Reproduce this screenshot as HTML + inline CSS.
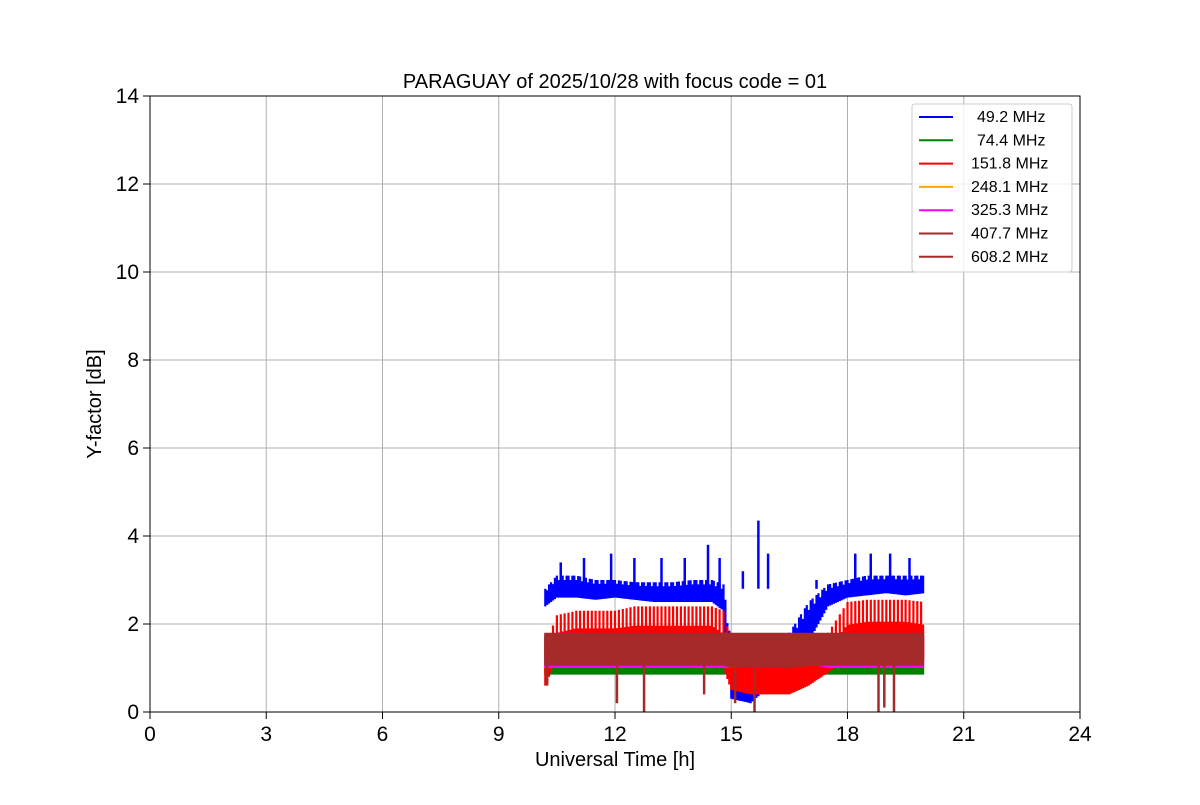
<!DOCTYPE html>
<html><head><meta charset="utf-8"><style>
body{margin:0;background:#fff}
text{font-family:"Liberation Sans","DejaVu Sans",sans-serif}
</style></head><body>
<svg id="chart" width="1200" height="800" xmlns="http://www.w3.org/2000/svg">
<rect width="1200" height="800" fill="#fff"/>
<g id="grid"></g>
<g id="series"></g>
<rect x="150" y="96" width="930" height="616" fill="none" stroke="#000" stroke-width="1"/>
<g id="axes"></g>
<text x="615" y="88" text-anchor="middle" font-size="20">PARAGUAY of 2025/10/28 with focus code = 01</text>
<text x="615" y="766" text-anchor="middle" font-size="20">Universal Time [h]</text>
<text transform="translate(101,404) rotate(-90)" text-anchor="middle" font-size="20">Y-factor [dB]</text>
<g id="legend"></g>
</svg>
<script>
const xTicks=[0,3,6,9,12,15,18,21,24];
const yTicks=[0,2,4,6,8,10,12,14];
const seriesNames=["49.2 MHz","74.4 MHz","151.8 MHz","248.1 MHz","325.3 MHz","407.7 MHz","608.2 MHz"];
const seriesColors=["blue","green","red","orange","magenta","brown","brown"];
const times=[10.2,10.5,11,11.5,12,12.5,13,13.5,14,14.5,14.8,15,15.5,16,16.5,17,17.5,18,18.5,19,19.5,20];
const blueLow=[2.4,2.6,2.6,2.55,2.6,2.55,2.5,2.5,2.5,2.5,2.3,0.3,0.2,0.6,1.0,1.6,2.4,2.6,2.65,2.7,2.65,2.7];
const blueHigh=[2.8,3.1,3.1,3.0,3.0,2.95,2.95,2.95,3.0,3.0,2.9,1.5,1.3,1.4,1.8,2.5,2.9,3.0,3.1,3.1,3.1,3.1];
const greenLow=[0.85,0.85,0.85,0.85,0.85,0.85,0.85,0.85,0.85,0.85,0.85,0.85,0.85,0.85,0.85,0.85,0.85,0.85,0.85,0.85,0.85,0.85];
const greenHigh=[1.0,1.0,1.0,1.0,1.0,1.0,1.0,1.0,1.0,1.0,1.0,1.0,1.0,1.0,1.0,1.0,1.0,1.0,1.0,1.0,1.0,1.0];
const redLow=[0.6,1.2,1.3,1.3,1.3,1.3,1.3,1.3,1.3,1.3,1.0,0.5,0.4,0.4,0.4,0.6,0.9,1.2,1.3,1.3,1.3,1.2];
const redHigh=[1.5,2.2,2.3,2.3,2.3,2.4,2.4,2.4,2.4,2.4,2.3,1.6,1.6,1.5,1.6,1.7,1.8,2.5,2.55,2.55,2.55,2.5];
const orangeLow=[1.25,1.3,1.3,1.3,1.3,1.3,1.3,1.3,1.3,1.3,1.3,1.3,1.3,1.3,1.3,1.3,1.3,1.3,1.3,1.3,1.3,1.3];
const orangeHigh=[1.5,1.55,1.55,1.55,1.55,1.55,1.55,1.55,1.55,1.55,1.55,1.6,1.6,1.55,1.55,1.55,1.55,1.55,1.55,1.55,1.55,1.55];
const magentaLow=[1.0,1.0,1.0,1.0,1.0,1.0,1.0,1.0,1.0,1.0,1.0,1.0,1.0,1.1,1.1,1.1,1.0,1.0,1.0,1.0,1.0,1.0];
const magentaHigh=[1.7,1.8,1.8,1.7,1.7,1.7,1.7,1.7,1.7,1.7,1.7,1.8,1.7,1.7,1.7,1.7,1.7,1.7,1.7,1.7,1.7,1.7];
const brown1Low=[1.05,1.05,1.05,1.05,1.05,1.05,1.05,1.05,1.05,1.05,1.05,1.0,1.0,1.0,1.0,1.05,1.05,1.05,1.05,1.05,1.05,1.05];
const brown1High=[1.75,1.75,1.75,1.75,1.75,1.75,1.75,1.75,1.75,1.75,1.75,1.75,1.75,1.75,1.75,1.75,1.75,1.75,1.75,1.75,1.75,1.75];
const brown2Low=[1.2,1.2,1.2,1.2,1.2,1.2,1.2,1.2,1.2,1.2,1.2,1.15,1.15,1.15,1.15,1.2,1.2,1.2,1.2,1.2,1.2,1.2];
const brown2High=[1.8,1.8,1.8,1.8,1.8,1.8,1.8,1.8,1.8,1.8,1.8,1.8,1.8,1.8,1.8,1.8,1.8,1.8,1.8,1.8,1.8,1.8];
const spikeTimes=[10.6,11.2,11.9,12.5,13.2,13.8,14.4,14.7,15.3,15.7,15.95,17.2,18.2,18.6,19.1,19.6];
const spikeValues=[3.4,3.5,3.6,3.5,3.5,3.5,3.8,3.5,3.2,4.35,3.6,3.0,3.6,3.6,3.6,3.5];
const dipTimes=[10.25,12.05,12.75,14.3,15.1,15.6,18.8,18.95,19.2];
const dipValues=[0.6,0.2,0.0,0.4,0.2,0.0,0.0,0.1,0.0];

const X=v=>150+v*930/24, Y=v=>712-v*616/14;
const NS="http://www.w3.org/2000/svg";
function mk(tag,attrs,parent){const e=document.createElementNS(NS,tag);for(const k in attrs)e.setAttribute(k,attrs[k]);parent.appendChild(e);return e;}
function interp(arr,t){for(let j=0;j<times.length-1;j++){if(t<=times[j+1]){const f=(t-times[j])/(times[j+1]-times[j]);return arr[j]+f*(arr[j+1]-arr[j]);}}return arr[arr.length-1];}
const grid=document.getElementById('grid'),axes=document.getElementById('axes'),ser=document.getElementById('series'),leg=document.getElementById('legend');
xTicks.forEach(t=>{
  const g=mk('line',{x1:X(t),x2:X(t),y1:96,y2:712,stroke:'#b0b0b0','stroke-width':1},grid);
  
  
  mk('line',{x1:X(t),x2:X(t),y1:712,y2:719,stroke:'#000'},axes);
  const l=mk('text',{x:X(t),y:741,'text-anchor':'middle','font-size':21},axes);
  l.textContent=t;
  
  
});
yTicks.forEach(t=>{
  const g=mk('line',{x1:150,x2:1080,y1:Y(t),y2:Y(t),stroke:'#b0b0b0','stroke-width':1},grid);
  
  
  mk('line',{x1:143,x2:150,y1:Y(t),y2:Y(t),stroke:'#000'},axes);
  const l=mk('text',{x:139,y:Y(t)+7,'text-anchor':'end','font-size':21},axes);
  l.textContent=t;
  
  
});
const bands=[[blueLow,blueHigh],[greenLow,greenHigh],[redLow,redHigh],[orangeLow,orangeHigh],[magentaLow,magentaHigh],[brown1Low,brown1High],[brown2Low,brown2High]];
bands.forEach((b,i)=>{
  const g=mk('g',{},ser);
  
  
  // dense vertical strokes between envelope low/high (matplotlib noisy trace look)
  let d='';
  let k=0;
  for(let t=times[0];t<=times[times.length-1];t+=0.05,k++){
    const lo=interp(b[0],t),hi=interp(b[1],t);
    let top=hi;
    if(i===2 && k%2===1) top=lo+(hi-lo)*0.6;
    if(i===0 && k%3===1) top=lo+(hi-lo)*0.8;
    d+='M'+X(t).toFixed(1)+' '+Y(lo).toFixed(1)+'V'+Y(top).toFixed(1);
  }
  mk('path',{d:d,stroke:seriesColors[i],'stroke-width':2.2,fill:'none'},g);
  if(i===0){
    spikeTimes.forEach((t,k)=>{
      const s=mk('line',{x1:X(t),x2:X(t),y1:Y(2.8),y2:Y(spikeValues[k]),stroke:'blue','stroke-width':2.5},g);
      
      
    });
  }
});
dipTimes.forEach((t,k)=>{
  const s=mk('line',{x1:X(t),x2:X(t),y1:Y(1.1),y2:Y(dipValues[k]),stroke:'brown','stroke-width':2.5},ser);
  
  
});
mk('rect',{x:912,y:104,width:160,height:168,fill:'#fff','fill-opacity':0.8,stroke:'#ccc',rx:3},leg);
seriesNames.forEach((n,i)=>{
  const y=117+i*23.3;
  const ln=mk('line',{x1:919,x2:953,y1:y,y2:y,stroke:seriesColors[i],'stroke-width':2},leg);
  
  
  const t=mk('text',{x:(n.length<9?977:971),y:y+5,'font-size':16},leg);
  t.textContent=n;
  
  
});
</script>
</body></html>
